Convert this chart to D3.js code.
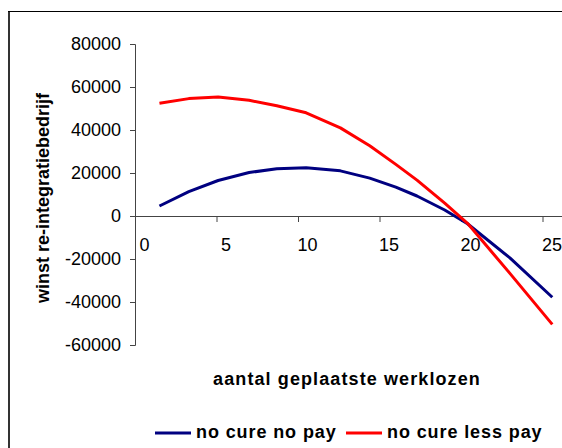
<!DOCTYPE html>
<html>
<head>
<meta charset="utf-8">
<script src="https://cdn.jsdelivr.net/npm/d3@7"></script>
<style>
  body { margin: 0; background: #fff; }
  text { font-family: Arial, "Liberation Sans", sans-serif; }
</style>
</head>
<body>
<div class="chart"></div>
<script>
// winst re-integratiebedrijf vs aantal geplaatste werklozen
let svgWidth = 562;
let svgHeight = 448;

// data
let xValues = [1.5, 3.3, 5.1, 7.0, 8.7, 10.5, 12.6, 14.4, 16.0, 17.3, 19.0, 20.4, 23.0, 25.6];
let noCureNoPay = [4650, 11300, 16500, 20200, 22000, 22400, 21000, 17600, 13400, 9300, 2800, -3600, -19500, -37800];
let noCureLessPay = [52400, 54600, 55300, 53800, 51300, 48000, 41000, 32700, 24000, 16700, 6000, -3400, -26700, -50400];
let xTicks = [0, 5, 10, 15, 20, 25];
let yTicks = [-60000, -40000, -20000, 0, 20000, 40000, 60000, 80000];
let seriesNames = ["no cure no pay", "no cure less pay"];
let seriesColors = ["#000080", "#ff0000"];

let svg = d3.select(".chart")
    .append("svg")
    .attr("width", svgWidth)
    .attr("height", svgHeight);

svg.append("rect")
    .attr("width", svgWidth)
    .attr("height", svgHeight)
    .attr("fill", "#fff");

// chart border (right/bottom edge cropped off)
svg.append("line")
    .attr("x1", 9).attr("x2", 9)
    .attr("y1", 11).attr("y2", svgHeight)
    .attr("stroke", "#333")
    .attr("stroke-width", 2);
svg.append("line")
    .attr("x1", 8).attr("x2", svgWidth)
    .attr("y1", 11.5).attr("y2", 11.5)
    .attr("stroke", "#000")
    .attr("stroke-width", 1);

let x = d3.scaleLinear()
    .domain([0, 30])
    .range([135, 624]);

let y = d3.scaleLinear()
    .domain([-60000, 80000])
    .range([345, 44]);

// y axis
let leftAxis = d3.axisLeft(y)
    .tickValues(yTicks)
    .tickSize(5)
    .tickPadding(9)
    .tickFormat(d => String(d));

let yAxis = svg.append("g")
    .attr("transform", `translate(${x(0)}, 0)`)
    .call(leftAxis);
yAxis.select(".domain").attr("stroke", "#444");
yAxis.selectAll(".tick line").attr("stroke", "#444");
yAxis.selectAll("text")
    .attr("font-size", "18px")
    .attr("fill", "#000");

// x axis, crosses at 0
let bottomAxis = d3.axisBottom(x)
    .tickValues(xTicks)
    .tickSize(6)
    .tickSizeOuter(0)
    .tickPadding(16)
    .tickFormat(d => String(d));

let xAxis = svg.append("g")
    .attr("transform", `translate(0, ${y(0)})`)
    .call(bottomAxis);
xAxis.select(".domain").attr("stroke", "#444");
xAxis.selectAll(".tick line").attr("stroke", "#444");
xAxis.selectAll("text")
    .attr("font-size", "18px")
    .attr("fill", "#000")
    .attr("dx", 9);

// lines
let series = [noCureNoPay, noCureLessPay];
let line = d3.line()
    .x((d, i) => x(xValues[i]))
    .y(d => y(d));

series.forEach(function (values, s) {
    svg.append("path")
        .datum(values)
        .attr("d", line)
        .attr("fill", "none")
        .attr("stroke", seriesColors[s])
        .attr("stroke-width", 3)
        .attr("stroke-linejoin", "round");
});

// axis titles
svg.append("text")
    .attr("transform", "translate(49, 198) rotate(-90)")
    .attr("text-anchor", "middle")
    .attr("font-size", "18px")
    .attr("font-weight", "bold")
    .text("winst re-integratiebedrijf");

svg.append("text")
    .attr("x", 347)
    .attr("y", 385)
    .attr("text-anchor", "middle")
    .attr("font-size", "18px")
    .attr("font-weight", "bold")
    .attr("letter-spacing", "1.1px")
    .text("aantal geplaatste werklozen");

// legend
let legendX = [155, 346];
seriesNames.forEach(function (name, s) {
    let g = svg.append("g")
        .attr("transform", `translate(${legendX[s]}, 433)`);
    g.append("line")
        .attr("x1", 0).attr("x2", 36)
        .attr("y1", 0).attr("y2", 0)
        .attr("stroke", seriesColors[s])
        .attr("stroke-width", 3);
    g.append("text")
        .attr("x", 41)
        .attr("y", 5)
        .attr("font-size", "18px")
        .attr("font-weight", "bold")
        .attr("letter-spacing", "0.9px")
        .text(name);
});
</script>
</body>
</html>
